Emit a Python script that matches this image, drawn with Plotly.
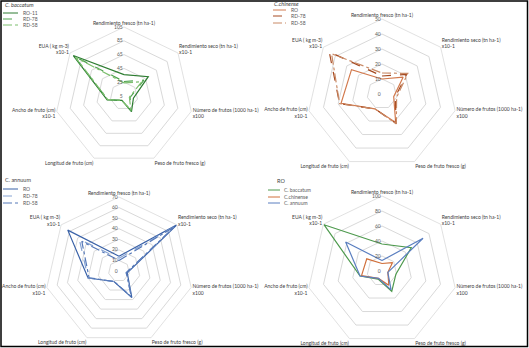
import plotly.graph_objects as go

categories = ["Rendimiento fresco (tn ha-1)",
              "Rendimiento seco (tn ha-1)<br>x10-1",
              "Número de frutos (1000 ha-1)<br>x100",
              "Peso de fruto fresco (g)",
              "Longitud de fruto (cm)",
              "Ancho de fruto (cm)<br>x10-1",
              "EUA ( kg m-3)<br>x10-1"]

# C. baccatum
bac_ro = [36, 50, 19, 30, 12, 30, 99]
bac_rd78 = [26, 42, 14, 29, 12, 29, 97]
bac_rd58 = [24, 38, 13, 28, 12, 29, 95]
# C. chinense
chi_ro = [10, 18, 8, 21, 11, 28, 26]
chi_rd78 = [12, 21, 9, 22, 11, 29, 45]
chi_rd58 = [14, 22, 10, 22, 11, 29, 43]
# C. annuum
ann_ro = [14, 70, 8, 28, 11, 30, 62]
ann_rd78 = [12, 68, 7, 27, 11, 30, 48]
ann_rd58 = [10, 67, 7, 27, 11, 29, 45]

panel1_names = ["RO-11", "RD-78", "RD-58"]
panel2_names = ["RO", "RD-78", "RD-58"]
panel3_names = ["RO", "RD-78", "RD-58"]
panel4_names = ["C. baccatum", "C.chinense", "C. annuum"]
titles = ["<i>C. baccatum</i>", "<i>C.chinense</i>", "C. annuum", "RO"]

ticks1 = [5, 25, 45, 65, 85, 105]
ticks2 = [0, 10, 20, 30, 40, 50]
ticks3 = [0, 10, 20, 30, 40, 50, 60, 70]
ticks4 = [0, 20, 40, 60, 80, 100]

FONT = "Lato, Liberation Sans, sans-serif"
W, H = 529, 348


def closed(v):
    return list(v) + [v[0]]


theta = closed(categories)

fig = go.Figure()

panels = [
    ("polar", [bac_ro, bac_rd78, bac_rd58], panel1_names,
     ["#2E7D32", "#4FA34F", "#7DBF6E"], ["solid", "dash", "dashdot"]),
    ("polar2", [chi_ro, chi_rd78, chi_rd58], panel2_names,
     ["#D27A4E", "#A64B22", "#C98A66"], ["solid", "dash", "dashdot"]),
    ("polar3", [ann_ro, ann_rd78, ann_rd58], panel3_names,
     ["#3A62A8", "#86A3D3", "#5578B8"], ["solid", "dash", "dashdot"]),
    ("polar4", [bac_ro, chi_ro, ann_ro], panel4_names,
     ["#4E9A4E", "#D0703C", "#5B7FC0"], ["solid", "solid", "solid"]),
]

# legend/title placement in pixels (title x, title y, line x0, line x1, text x, row ys)
legend_pos = [
    (3, 5, 3, 18, 21, [13, 19, 25]),
    (272, 4, 273, 286, 289, [10, 16, 23]),
    (3, 180, 3, 18, 21, [189, 196, 203]),
    (275, 181, 268, 280, 282, [190, 197, 203]),
]

shapes = [dict(type="rect", xref="paper", yref="paper",
               x0=1 / W, x1=1 - 1.5 / W, y0=1.5 / H, y1=1 - 1 / H,
               line=dict(color="black", width=1.5))]
annotations = []

for (sub, series, names, colors, dashes), title, lp in zip(panels, titles, legend_pos):
    tx, ty, lx0, lx1, txx, rows = lp
    annotations.append(dict(text=title, x=tx / W, y=1 - ty / H, xref="paper", yref="paper",
                            xanchor="left", yanchor="middle", showarrow=False,
                            font=dict(size=5.5, color="#404040", family=FONT)))
    for vals, nm, col, ds, ry in zip(series, names, colors, dashes, rows):
        fig.add_trace(go.Scatterpolar(
            r=closed(vals), theta=theta, mode="lines", name=nm,
            line=dict(color=col, width=1.2, dash=ds),
            subplot=sub, showlegend=False, hoverinfo="skip"))
        shapes.append(dict(type="line", xref="paper", yref="paper",
                           x0=lx0 / W, x1=lx1 / W, y0=1 - ry / H, y1=1 - ry / H,
                           line=dict(color=col, width=1, dash=ds)))
        annotations.append(dict(text=nm, x=txx / W, y=1 - ry / H, xref="paper", yref="paper",
                                xanchor="left", yanchor="middle", showarrow=False,
                                font=dict(size=5, color="#595959", family=FONT)))


def px_dom(cx, cy, R):
    return dict(x=[(cx - R) / W, (cx + R) / W],
                y=[(H - (cy + R)) / H, (H - (cy - R)) / H])


def polar_layout(dom, rng, ticks):
    return dict(
        domain=dom,
        bgcolor="white",
        gridshape="linear",
        radialaxis=dict(range=rng, tickvals=ticks, showline=False, ticks="",
                        angle=90, side="counterclockwise", tickangle=90,
                        gridcolor="#D9D9D9", gridwidth=0.8,
                        tickfont=dict(size=5, color="#595959", family=FONT)),
        angularaxis=dict(direction="clockwise", rotation=90, showgrid=False,
                         showline=True, linecolor="#D9D9D9", linewidth=0.8,
                         ticks="", tickfont=dict(size=5, color="#404040", family=FONT)),
    )


fig.update_layout(
    width=W, height=H, margin=dict(l=0, r=0, t=0, b=0),
    paper_bgcolor="white", plot_bgcolor="white",
    font=dict(family=FONT),
    showlegend=False,
    polar=polar_layout(px_dom(124, 96, 69), [5, 105], ticks1),
    polar2=polar_layout(px_dom(382, 94, 75), [0, 50], ticks2),
    polar3=polar_layout(px_dom(119, 271, 74), [0, 70], ticks3),
    polar4=polar_layout(px_dom(382, 271, 75), [0, 100], ticks4),
    annotations=annotations,
    shapes=shapes,
)

fig.write_html("out.html")
